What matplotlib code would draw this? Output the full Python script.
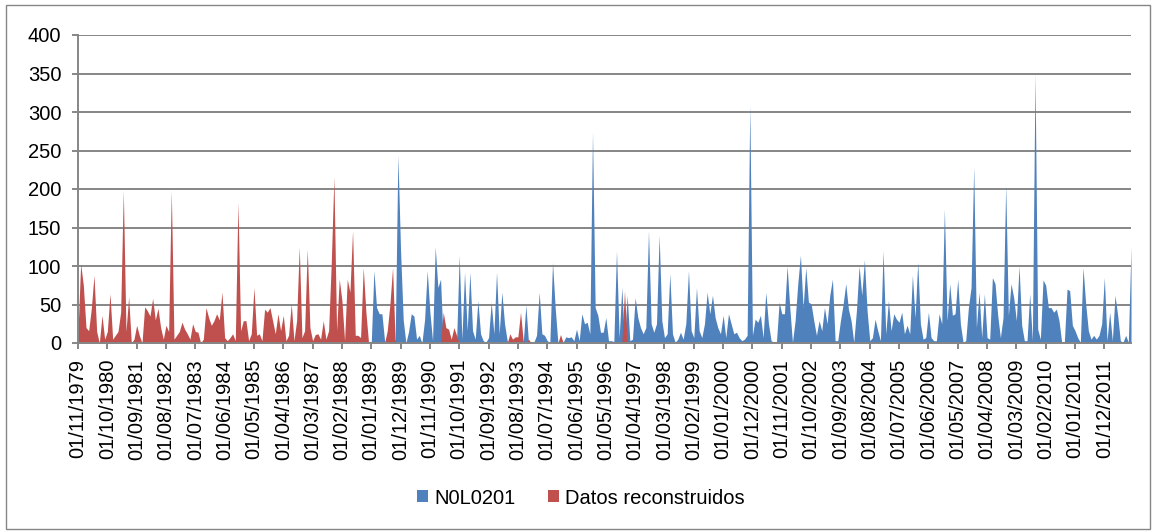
import matplotlib
matplotlib.use("Agg")
import matplotlib.pyplot as plt
from matplotlib.patches import Patch, Rectangle
import numpy as np
import pandas as pd

plt.rcParams['font.family'] = ['Liberation Sans', 'DejaVu Sans']

# Monthly values, starting 01/11/1979
valores = [
    15, 103, 75, 20, 16, 45, 88, 15, 0, 36, 5, 15,
    64, 5, 10, 15, 40, 198, 15, 60, 0, 5, 23, 10,
    0, 47, 42, 35, 58, 30, 45, 20, 5, 23, 15, 198,
    5, 10, 15, 27, 18, 12, 5, 25, 15, 14, 0, 5,
    46, 33, 23, 29, 38, 30, 66, 7, 3, 7, 12, 3,
    183, 16, 29, 29, 3, 12, 72, 10, 12, 3, 44, 40,
    46, 29, 12, 38, 16, 36, 3, 10, 51, 3, 29, 125,
    7, 16, 122, 20, 3, 11, 12, 5, 29, 5, 16, 103,
    216, 16, 83, 55, 3, 83, 66, 146, 10, 10, 7, 98,
    40, 0, 0, 94, 46, 38, 38, 3, 16, 50, 98, 5,
    244, 120, 30, 0, 15, 38, 35, 5, 10, 0, 30, 94,
    40, 3, 125, 72, 83, 40, 20, 18, 5, 20, 10, 114,
    5, 92, 16, 92, 16, 5, 55, 12, 3, 1, 7, 53,
    12, 92, 12, 66, 25, 3, 12, 5, 8, 8, 40, 3,
    49, 5, 1, 1, 10, 66, 12, 10, 3, 1, 105, 46,
    1, 11, 1, 8, 7, 8, 3, 18, 3, 38, 25, 27,
    12, 274, 46, 36, 14, 14, 33, 3, 3, 2, 120, 7,
    72, 68, 62, 3, 5, 59, 33, 20, 12, 20, 146, 25,
    14, 25, 140, 29, 7, 12, 90, 12, 1, 5, 14, 5,
    25, 94, 16, 7, 72, 16, 7, 25, 66, 38, 62, 33,
    20, 12, 36, 7, 38, 25, 12, 14, 7, 3, 5, 10,
    309, 10, 31, 27, 36, 7, 66, 25, 3, 1, 1, 53,
    38, 38, 100, 46, 1, 29, 77, 114, 46, 98, 53, 51,
    29, 10, 29, 16, 46, 25, 62, 83, 3, 3, 29, 50,
    77, 44, 29, 1, 42, 100, 62, 108, 42, 3, 7, 31,
    16, 3, 120, 12, 55, 16, 38, 31, 27, 40, 12, 23,
    12, 88, 33, 105, 25, 5, 7, 40, 7, 3, 3, 38,
    25, 174, 29, 77, 36, 38, 83, 25, 1, 3, 46, 72,
    229, 20, 66, 7, 64, 7, 5, 85, 77, 36, 7, 33,
    205, 36, 77, 59, 29, 100, 23, 3, 3, 64, 3, 350,
    18, 5, 82, 75, 46, 46, 40, 44, 29, 1, 1, 70,
    68, 23, 16, 7, 1, 98, 51, 16, 5, 10, 5, 10,
    25, 85, 3, 40, 3, 62, 36, 3, 1, 10, 1, 125,
]

# Month indices whose value is reconstructed (red series)
meses_reconstruidos = (
    list(range(0, 110)) + list(range(116, 119)) + list(range(137, 143))
    + list(range(162, 168)) + [169, 181, 205]
)

serie_nombres = ["N0L0201", "Datos reconstruidos"]
colores = ["#4F81BD", "#C0504D"]

n = len(valores)
fechas = pd.date_range("1979-11-01", periods=n, freq="MS")
etiquetas = [d.strftime("%d/%m/%Y") for d in fechas]
paso_etiqueta = 11

vals = np.array(valores, dtype=float)
es_rec = np.zeros(n, dtype=bool)
es_rec[meses_reconstruidos] = True
azul = np.where(es_rec, 0.0, vals)
rojo = np.where(es_rec, vals, 0.0)

W, H = 1153, 531
fig = plt.figure(figsize=(W / 100, H / 100), dpi=100)
ax = fig.add_axes([78 / W, 1 - 343 / H, (1131 - 78) / W, (343 - 35) / H])

x = np.arange(n)
ax.fill_between(x, 0, azul, color=colores[0], linewidth=0, zorder=3)
ax.fill_between(x, 0, rojo, color=colores[1], linewidth=0, zorder=4)

ax.set_xlim(0, n - 1)
ax.set_ylim(0, 400)
ax.set_yticks(np.arange(0, 401, 50))
grid_c = "#868686"
ax.yaxis.grid(True, color=grid_c, linewidth=1.4, zorder=0)
ax.set_axisbelow(True)
pos = np.arange(0, n, paso_etiqueta)
ax.set_xticks(pos)
ax.set_xticklabels([etiquetas[i] for i in pos], rotation=90, ha="center", va="top")

for s in ["top", "right"]:
    ax.spines[s].set_visible(False)
for s in ["left", "bottom"]:
    ax.spines[s].set_color(grid_c)
    ax.spines[s].set_linewidth(1.4)
    ax.spines[s].set_zorder(5)
ax.tick_params(axis="both", colors=grid_c, labelcolor="black", labelsize=14.5,
               width=1.4, length=4, direction="out")
ax.tick_params(axis="y", pad=8)
ax.tick_params(axis="x", pad=7.5)

handles = [Patch(facecolor=c, edgecolor="none") for c in colores]
fig.legend(handles, serie_nombres, loc="center", bbox_to_anchor=(581 / W, 1 - 498 / H),
           ncol=2, frameon=False, fontsize=14.5, handlelength=0.55, handleheight=0.55,
           handletextpad=0.3, columnspacing=1.6)

fig.patches.append(Rectangle((6 / W, 2 / H), (1150 - 6) / W, (526 - 2) / H,
                             transform=fig.transFigure, fill=False,
                             edgecolor=grid_c, linewidth=1.0))

fig.savefig("out.png", dpi=100)
